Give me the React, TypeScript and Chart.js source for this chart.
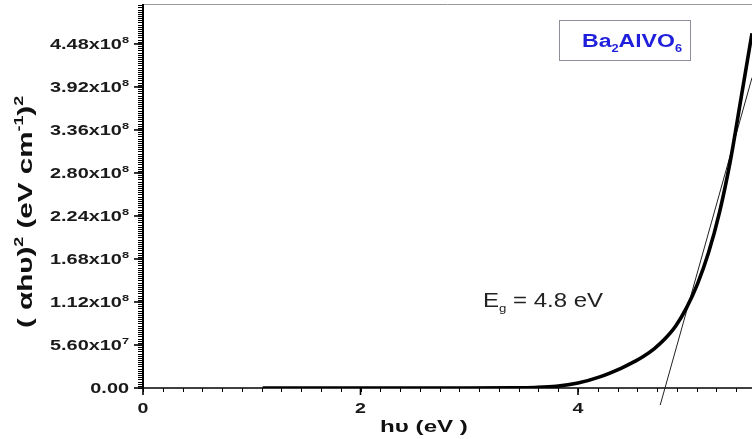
import { useEffect, useRef } from "react";
import { Chart, registerables } from "chart.js";

Chart.register(...registerables);

// Tauc plot of Ba2AlVO6: (αhυ)² against photon energy hυ
const photonEnergy = [1.1, 2.0, 3.0, 3.4, 3.6, 3.8, 4.0, 4.2, 4.4, 4.5, 4.6, 4.7, 4.8, 4.9, 5.0, 5.1, 5.2, 5.3, 5.4, 5.5, 5.6];
const alphaHvSquared = [0, 0, 0, 2e5, 7e5, 2.2e6, 6.5e6, 1.45e7, 2.6e7, 3.3e7, 4.1e7, 5.1e7, 6.4e7, 8.1e7, 1.05e8, 1.36e8, 1.76e8, 2.28e8, 2.95e8, 3.78e8, 4.62e8];

// Linear extrapolation of the absorption edge, crossing the energy axis at the band gap
const EG = 4.8;
const tangentSlope = 5.05e8;
const tangentEnergyRange = [4.756, 5.6];

const X_MIN = 0;
const X_MAX = 5.6;
const Y_MIN = 0;
const Y_MAX = 5e8;

const xTickValues = [0, 2, 4];
const xTickLabels = ["0", "2", "4"];
const xMinorPerMajor = 10;

const yTickValues = [0, 5.6e7, 1.12e8, 1.68e8, 2.24e8, 2.8e8, 3.36e8, 3.92e8, 4.48e8];
const yTickMantissas = ["0.00", "5.60x10", "1.12x10", "1.68x10", "2.24x10", "2.80x10", "3.36x10", "3.92x10", "4.48x10"];
const yTickExponents = ["", "7", "8", "8", "8", "8", "8", "8", "8"];
const yMinorPerMajor = 19;

const FONT = "'Liberation Sans', Arial, Helvetica, sans-serif";

type Part = { t: string; size: number; bold?: boolean; dy?: number };

function drawRich(
  ctx: CanvasRenderingContext2D,
  parts: Part[],
  x: number,
  y: number,
  align: "left" | "center" | "right",
  stretch: number,
  color: string,
  rotate = 0
) {
  ctx.save();
  ctx.translate(x, y);
  if (rotate) ctx.rotate(rotate);
  ctx.scale(stretch, 1);
  ctx.fillStyle = color;
  ctx.textBaseline = "alphabetic";
  ctx.textAlign = "left";
  const fontOf = (p: Part) => `${p.bold ? "bold " : ""}${p.size}px ${FONT}`;
  let total = 0;
  for (const p of parts) {
    ctx.font = fontOf(p);
    total += ctx.measureText(p.t).width;
  }
  let cx = align === "left" ? 0 : align === "right" ? -total : -total / 2;
  for (const p of parts) {
    ctx.font = fontOf(p);
    ctx.fillText(p.t, cx, p.dy ?? 0);
    cx += ctx.measureText(p.t).width;
  }
  ctx.restore();
}

const axesPlugin = {
  id: "taucAxes",
  beforeDatasetsDraw(chart: any) {
    const { ctx, chartArea } = chart;
    const xs = chart.scales.x;
    const ys = chart.scales.y;
    const { left, right, top, bottom } = chartArea;
    ctx.save();

    // frame top line
    ctx.strokeStyle = "#9a9a9a";
    ctx.lineWidth = 1;
    ctx.beginPath();
    ctx.moveTo(left, top + 0.5);
    ctx.lineTo(right, top + 0.5);
    ctx.stroke();

    ctx.strokeStyle = "#000";
    // minor ticks on y
    ctx.lineWidth = 1;
    const yMinorStep = (yTickValues[1] - yTickValues[0]) / (yMinorPerMajor + 1);
    for (let v = Y_MIN; v <= Y_MAX + 1; v += yMinorStep) {
      const py = Math.round(ys.getPixelForValue(v)) + 0.5;
      ctx.beginPath();
      ctx.moveTo(left - 5, py);
      ctx.lineTo(left, py);
      ctx.stroke();
    }
    // minor ticks on x
    const xMinorStep = (xTickValues[1] - xTickValues[0]) / (xMinorPerMajor + 1);
    for (let v = X_MIN; v <= X_MAX + 1e-9; v += xMinorStep) {
      const px = Math.round(xs.getPixelForValue(v)) + 0.5;
      ctx.beginPath();
      ctx.moveTo(px, bottom);
      ctx.lineTo(px, bottom + 4);
      ctx.stroke();
    }
    // major ticks
    ctx.lineWidth = 1.6;
    for (const v of yTickValues) {
      const py = ys.getPixelForValue(v);
      ctx.beginPath();
      ctx.moveTo(left - 9, py);
      ctx.lineTo(left, py);
      ctx.stroke();
    }
    for (const v of xTickValues) {
      const px = xs.getPixelForValue(v);
      ctx.beginPath();
      ctx.moveTo(px, bottom);
      ctx.lineTo(px, bottom + 7);
      ctx.stroke();
    }

    // axis lines
    ctx.lineWidth = 2;
    ctx.beginPath();
    ctx.moveTo(left, top);
    ctx.lineTo(left, bottom + 1);
    ctx.stroke();
    ctx.lineWidth = 1.6;
    ctx.beginPath();
    ctx.moveTo(left - 1, bottom);
    ctx.lineTo(right, bottom);
    ctx.stroke();
    ctx.restore();
  },
  afterDraw(chart: any) {
    const { ctx, chartArea } = chart;
    const xs = chart.scales.x;
    const ys = chart.scales.y;
    const { left, bottom } = chartArea;

    // y tick labels
    yTickValues.forEach((v, i) => {
      const py = ys.getPixelForValue(v);
      const parts: Part[] = [{ t: yTickMantissas[i], size: 14, bold: true }];
      if (yTickExponents[i]) parts.push({ t: yTickExponents[i], size: 9, bold: true, dy: -6 });
      drawRich(ctx, parts, left - 14, py + 5, "right", 1.42, "#1a1a1a");
    });

    // x tick labels
    xTickValues.forEach((v, i) => {
      const px = xs.getPixelForValue(v);
      drawRich(ctx, [{ t: xTickLabels[i], size: 14, bold: true }], px, bottom + 25, "center", 1.4, "#1a1a1a");
    });

    // axis titles
    drawRich(
      ctx,
      [{ t: "hυ (eV )", size: 17, bold: true }],
      424,
      432,
      "center",
      1.42,
      "#111"
    );
    drawRich(
      ctx,
      [
        { t: "( αhυ)", size: 20, bold: true },
        { t: "2", size: 12, bold: true, dy: -9 },
        { t: " (eV cm", size: 20, bold: true },
        { t: "-1", size: 12, bold: true, dy: -9 },
        { t: ")", size: 20, bold: true },
        { t: "2", size: 12, bold: true, dy: -9 },
      ],
      32,
      212,
      "center",
      1.48,
      "#111",
      -Math.PI / 2
    );

    // sample label box
    ctx.save();
    ctx.strokeStyle = "#8f8f9a";
    ctx.lineWidth = 1;
    ctx.strokeRect(559.5, 20.5, 131, 40);
    ctx.restore();
    drawRich(
      ctx,
      [
        { t: "Ba", size: 18, bold: true },
        { t: "2", size: 10, bold: true, dy: 5 },
        { t: "AlVO", size: 18, bold: true },
        { t: "6", size: 10, bold: true, dy: 5 },
      ],
      582,
      47,
      "left",
      1.28,
      "#1f1fdc"
    );

    // band gap annotation
    drawRich(
      ctx,
      [
        { t: "E", size: 20 },
        { t: "g", size: 11, dy: 5 },
        { t: " = " + EG.toFixed(1) + " eV", size: 20 },
      ],
      483,
      307,
      "left",
      1.2,
      "#222"
    );
  },
};

export default function App() {
  const canvasRef = useRef<HTMLCanvasElement | null>(null);

  useEffect(() => {
    document.body.style.margin = "0";
    const canvas = canvasRef.current;
    if (!canvas) return;

    const curve = photonEnergy.map((x, i) => ({ x, y: alphaHvSquared[i] }));
    const tangent = tangentEnergyRange.map((x) => ({ x, y: tangentSlope * (x - EG) }));

    const chart = new Chart(canvas, {
      type: "line",
      data: {
        datasets: [
          {
            data: curve,
            borderColor: "#000",
            borderWidth: 3.6,
            pointRadius: 0,
            cubicInterpolationMode: "monotone",
            fill: false,
          },
          {
            data: tangent,
            borderColor: "#222",
            borderWidth: 1,
            pointRadius: 0,
            fill: false,
            clip: false,
          },
        ],
      },
      options: {
        animation: false,
        responsive: false,
        devicePixelRatio: 1,
        layout: { padding: { left: 143, top: 4, right: 0, bottom: 51 } },
        plugins: { legend: { display: false }, tooltip: { enabled: false } },
        scales: {
          x: { type: "linear", min: X_MIN, max: X_MAX, display: false },
          y: { type: "linear", min: Y_MIN, max: Y_MAX, display: false },
        },
      },
      plugins: [axesPlugin],
    } as any);

    return () => chart.destroy();
  }, []);

  return (
    <div style={{ width: 752, height: 439, background: "#fff" }}>
      <canvas ref={canvasRef} width={752} height={439} style={{ display: "block" }} />
    </div>
  );
}
